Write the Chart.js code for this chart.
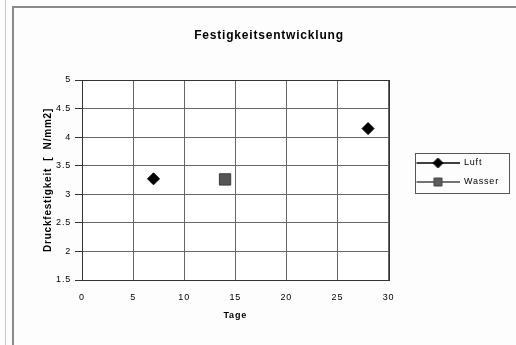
<!DOCTYPE html>
<html>
<head>
<meta charset="utf-8">
<script src="https://cdn.jsdelivr.net/npm/chart.js@4.4.1/dist/chart.umd.min.js"></script>
<style>
  html, body { margin: 0; padding: 0; background: #fdfdfd; }
  #wrap { width: 516px; height: 345px; position: relative; }
</style>
</head>
<body>
<div id="wrap"><canvas id="c" width="516" height="345"></canvas></div>
<script>
// ---- data ----
const chartTitle = 'Festigkeitsentwicklung';
const xAxisTitle = 'Tage';
const yAxisTitle = 'Druckfestigkeit  [  N/mm2]';
const seriesNames = ['Luft', 'Wasser'];
const luftDays = [7, 28];
const luftValues = [3.27, 4.15];
const wasserDays = [14];
const wasserValues = [3.26];
const xTicksRange = [0, 30, 5];     // min, max, step
const yTicksRange = [1.5, 5, 0.5];  // min, max, step

const FONT = "'Liberation Sans', Arial, sans-serif";
const SPACING = '0.8px';

function toPoints(xs, ys) { return xs.map((x, i) => ({ x: x, y: ys[i] })); }

// legend swatch images: line with marker
function makeSwatch(kind, fill, stroke) {
  const cv = document.createElement('canvas');
  cv.width = 61; cv.height = 14;
  const g = cv.getContext('2d');
  g.strokeStyle = stroke; g.lineWidth = 1.6;
  g.beginPath(); g.moveTo(18, 7); g.lineTo(61, 7); g.stroke();
  g.fillStyle = fill; g.strokeStyle = stroke; g.lineWidth = 1;
  const cx = 39.5, cy = 7;
  g.beginPath();
  if (kind === 'diamond') {
    g.moveTo(cx - 5, cy); g.lineTo(cx, cy - 5); g.lineTo(cx + 5, cy); g.lineTo(cx, cy + 5); g.closePath();
  } else {
    g.rect(cx - 4, cy - 4, 8, 8);
  }
  g.fill(); g.stroke();
  return cv;
}
const swatches = [makeSwatch('diamond', '#000', '#000'), makeSwatch('square', '#5c5c5c', '#444')];

const framePlugin = {
  id: 'frame',
  beforeLayout(chart) { chart.ctx.letterSpacing = SPACING; },
  beforeDraw(chart) {
    const ctx = chart.ctx;
    ctx.letterSpacing = SPACING;
    ctx.save();
    ctx.fillStyle = '#fdfdfd';
    ctx.fillRect(0, 0, chart.width, chart.height);
    ctx.strokeStyle = '#c8c8c8'; ctx.lineWidth = 1;
    ctx.beginPath(); ctx.moveTo(5.5, 0); ctx.lineTo(5.5, chart.height); ctx.stroke();
    ctx.strokeStyle = '#8a8a8a'; ctx.lineWidth = 2;
    ctx.beginPath(); ctx.moveTo(13, chart.height); ctx.lineTo(13, 7); ctx.lineTo(chart.width, 7); ctx.stroke();
    const a = chart.chartArea;
    ctx.fillStyle = '#ffffff';
    ctx.fillRect(a.left, a.top, a.right - a.left, a.bottom - a.top);
    ctx.restore();
  },
  afterDraw(chart) {
    const ctx = chart.ctx;
    const a = chart.chartArea;
    ctx.save();
    ctx.strokeStyle = '#333'; ctx.lineWidth = 1;
    ctx.strokeRect(Math.round(a.left) + 0.5, Math.round(a.top) + 0.5, Math.round(a.right - a.left), Math.round(a.bottom - a.top));
    const hb = chart.legend && chart.legend.legendHitBoxes;
    if (hb && hb.length) {
      const first = hb[0], last = hb[hb.length - 1];
      const l = first.left + 16, t = first.top - 6;
      const r = Math.max(...hb.map(h => h.left + h.width)) + 10;
      const b = last.top + last.height + 6;
      ctx.strokeStyle = '#555'; ctx.lineWidth = 1;
      ctx.strokeRect(Math.round(l) + 0.5, Math.round(t) + 0.5, Math.round(r - l), Math.round(b - t));
    }
    ctx.restore();
  }
};

new Chart(document.getElementById('c'), {
  type: 'scatter',
  data: {
    datasets: [
      {
        label: seriesNames[0],
        data: toPoints(luftDays, luftValues),
        pointStyle: 'rectRot',
        pointRadius: 6,
        pointHoverRadius: 6,
        backgroundColor: '#000',
        borderColor: '#000',
        borderWidth: 1,
        showLine: false
      },
      {
        label: seriesNames[1],
        data: toPoints(wasserDays, wasserValues),
        pointStyle: 'rect',
        pointRadius: 8,
        pointHoverRadius: 8,
        backgroundColor: '#555555',
        borderColor: '#3a3a3a',
        borderWidth: 1,
        showLine: false
      }
    ]
  },
  options: {
    responsive: false,
    animation: false,
    layout: { padding: { left: 30, right: 8, top: 0, bottom: 0 } },
    plugins: {
      tooltip: { enabled: false },
      title: {
        display: true,
        text: chartTitle,
        color: '#000',
        font: { family: FONT, size: 12, weight: 'bold' },
        padding: { top: 28, bottom: 37.6 }
      },
      legend: {
        display: true,
        position: 'right',
        align: 'center',
        labels: {
          usePointStyle: true,
          pointStyleWidth: 61,
          padding: 10,
          color: '#000',
          font: { family: FONT, size: 9 },
          generateLabels: (chart) => chart.data.datasets.map((ds, i) => ({
            text: ds.label,
            pointStyle: swatches[i],
            fillStyle: ds.backgroundColor,
            strokeStyle: ds.borderColor,
            lineWidth: 0,
            hidden: false,
            datasetIndex: i,
            fontColor: '#000'
          }))
        }
      }
    },
    scales: {
      x: {
        type: 'linear',
        min: xTicksRange[0], max: xTicksRange[1],
        ticks: { stepSize: xTicksRange[2], color: '#000', padding: 12, font: { family: FONT, size: 9 } },
        grid: { color: '#666', lineWidth: 1, drawTicks: false },
        border: { display: true, color: '#333' },
        title: { display: true, text: xAxisTitle, color: '#000', font: { family: FONT, size: 9, weight: 'bold' }, padding: { top: 4, bottom: 24 } },
        afterFit: (s) => { s.height = 65; }
      },
      y: {
        type: 'linear',
        min: yTicksRange[0], max: yTicksRange[1],
        ticks: { stepSize: yTicksRange[2], color: '#000', padding: 4, font: { family: FONT, size: 9 },
                 callback: (v) => String(v) },
        grid: { color: '#666', lineWidth: 1, drawTicks: true, tickLength: 7, tickColor: '#333' },
        border: { display: true, color: '#333' },
        title: { display: true, text: yAxisTitle, color: '#000', font: { family: FONT, size: 10, weight: 'bold' }, padding: { top: 12, bottom: 0 } },
        afterFit: (s) => { s.width = 52; }
      }
    }
  },
  plugins: [framePlugin]
});
</script>
</body>
</html>
